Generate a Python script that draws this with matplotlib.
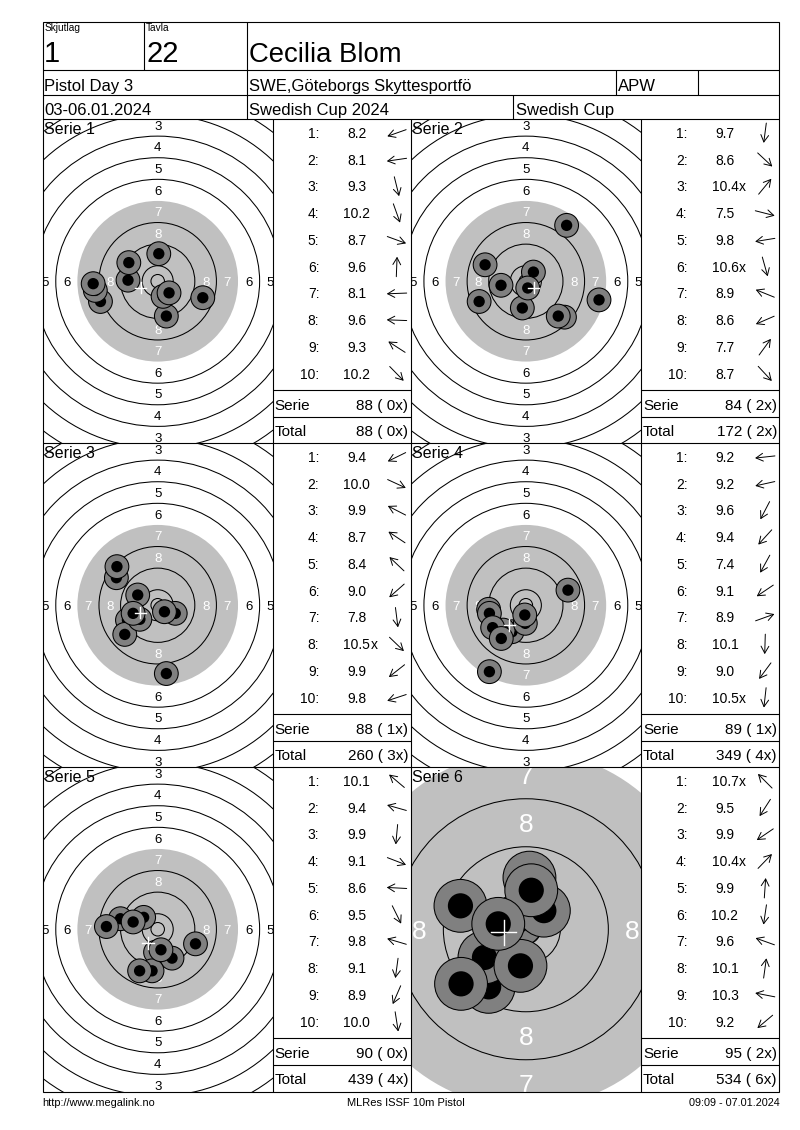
import numpy as np
import matplotlib
matplotlib.use('Agg')
from matplotlib import pyplot as plt
from matplotlib.patches import Circle, Rectangle

plt.rcParams['font.family'] = ['Liberation Sans', 'DejaVu Sans']

# --- header / footer texts ---
skjutlag = '1'
tavla = '22'
namn = 'Cecilia Blom'
tavling = 'Pistol Day 3'
klubb = 'SWE,Göteborgs Skyttesportfö'
klass = 'APW'
datum = '03-06.01.2024'
cup = 'Swedish Cup 2024'
cup_kort = 'Swedish Cup'
footer_vanster = 'http://www.megalink.no'
footer_mitt = 'MLRes ISSF 10m Pistol'
footer_hoger = '09:09 - 07.01.2024'

# --- shots: score and hit position (mm from centre, x right / y up) ---
serie1_poang = ['8.2', '8.1', '9.3', '10.2', '8.7', '9.6', '8.1', '9.6', '9.3', '10.2']
serie1_x = [-21.2, -23.1, 3.2, 2.0, 16.7, 0.4, -23.9, -11.0, -10.7, 4.2]
serie1_y = [-7.5, -3.4, -12.9, -5.6, -6.1, 10.2, -0.9, 0.4, 6.9, -4.3]

serie2_poang = ['9.7', '8.6', '10.4x', '7.5', '9.8', '10.6x', '8.9', '8.6', '7.7', '8.7']
serie2_x = [-1.3, 14.3, 2.8, 27.1, -9.2, 0.7, -15.1, -17.3, 15.1, 12.0]
serie2_y = [-9.9, -13.3, 3.4, -6.9, -1.5, -2.5, 6.1, -7.5, 20.7, -12.9]

serie3_poang = ['9.4', '10.0', '9.9', '8.7', '8.4', '9.0', '7.8', '10.5x', '9.9', '9.8']
serie3_x = [-11.2, 6.5, -7.4, -15.3, -15.1, -12.2, 3.2, 2.5, -6.6, -9.1]
serie3_y = [-5.5, -3.0, 3.8, 10.2, 14.3, -10.8, -25.3, -2.4, -5.2, -3.0]

serie4_poang = ['9.2', '9.2', '9.6', '9.4', '7.4', '9.1', '8.9', '10.1', '9.0', '10.5x']
serie4_x = [-13.8, -13.5, -5.1, -8.4, -13.5, -12.3, 15.6, -0.2, -9.1, -0.4]
serie4_y = [-1.5, -3.0, -9.8, -9.2, -24.6, -8.3, 5.6, -6.7, -12.3, -3.6]

serie5_poang = ['10.1', '9.4', '9.9', '9.1', '8.6', '9.5', '9.8', '9.1', '8.9', '10.0']
serie5_x = [-5.2, -13.8, -0.8, 14.0, -19.0, 5.3, -9.1, -2.1, -6.7, 1.2]
serie5_y = [4.4, 3.9, -8.5, -5.4, 1.0, -10.7, 2.7, -15.4, -15.4, -7.6]

serie6_poang = ['10.7x', '9.5', '9.9', '10.4x', '9.9', '10.2', '9.6', '10.1', '10.3', '9.2']
serie6_x = [-1.4, -6.2, -6.9, 3.0, 0.6, -0.9, -10.9, 0.9, -4.6, -10.8]
serie6_y = [1.4, -9.6, -4.7, 3.1, 8.6, -6.1, 3.9, 6.5, 0.9, -9.1]

serier = [(serie1_poang, serie1_x, serie1_y),
          (serie2_poang, serie2_x, serie2_y),
          (serie3_poang, serie3_x, serie3_y),
          (serie4_poang, serie4_x, serie4_y),
          (serie5_poang, serie5_x, serie5_y),
          (serie6_poang, serie6_x, serie6_y)]
zoomad = [False, False, False, False, False, True]

# --- layout in pixels ---
W, H = 800, 1130
L, R, TOP = 42.7, 779.3, 21.7
kol = [42.7, 272.7, 410.7, 641.0, 779.3]
rad_topp = [119.0, 443.0, 767.0]
RAD_H = 324.5
BOTTEN = rad_topp[-1] + RAD_H

GRA = '#c0c0c0'
SKOTT_GRA = '#808080'


def ring_radie(n):
    # ISSF 10m luftpistol: tian 11.5 mm, 8 mm per ring
    return 5.75 + (10 - n) * 8.0


fig = plt.figure(figsize=(8, 11.3), dpi=100, facecolor='white')
bg = fig.add_axes([0, 0, 1, 1], zorder=3)
bg.set_xlim(0, W)
bg.set_ylim(H, 0)
bg.axis('off')
bg.patch.set_alpha(0)


def hlinje(y, x0, x1):
    bg.plot([x0, x1], [y, y], color='black', lw=0.8, solid_capstyle='butt')


def vlinje(x, y0, y1):
    bg.plot([x, x], [y0, y1], color='black', lw=0.8, solid_capstyle='butt')


def rita_tavla(ax, s, xs, ys, fs, bredd, hojd):
    hw, hh = bredd / 2 / s, hojd / 2 / s
    ax.set_xlim(-hw, hw)
    ax.set_ylim(-hh, hh)
    ax.axis('off')
    ax.add_patch(Circle((0, 0), ring_radie(7), fc=GRA, ec='none', zorder=1))
    for n in range(1, 11):
        if n == 7:
            continue
        ax.add_patch(Circle((0, 0), ring_radie(n), fc='none', ec='black', lw=0.75, zorder=2))
    ax.add_patch(Circle((0, 0), 2.5, fc='none', ec='black', lw=0.75, zorder=2))
    marg = 3.0 / s
    for n in range(1, 9):
        rr = ring_radie(n) - 4.0
        farg = 'white' if n >= 7 else 'black'
        for dx, dy in [(0, 1), (0, -1), (1, 0), (-1, 0)]:
            if (dx and rr > hw + marg) or (dy and rr > hh + marg):
                continue
            ax.text(dx * rr, dy * rr, str(n), color=farg, fontsize=fs,
                    ha='center', va='center_baseline', zorder=3, clip_on=True)
    for x, y in zip(xs, ys):
        ax.add_patch(Circle((x, y), 4.4, fc=SKOTT_GRA, ec='black', lw=0.75, zorder=4))
        ax.add_patch(Circle((x, y), 2.1, fc='black', ec='none', zorder=4))
    # medelträffpunkt
    mx, my = np.mean(xs), np.mean(ys)
    ax.plot([mx - 2.1, mx + 2.1], [my, my], color='white', lw=1, zorder=5)
    ax.plot([mx, mx], [my - 2.1, my + 2.1], color='white', lw=1, zorder=5)


# --- header ---
bg.add_patch(Rectangle((L, TOP), R - L, BOTTEN - TOP, fc='none', ec='black', lw=0.8))
hlinje(70, L, R)
hlinje(95, L, R)
hlinje(119, L, R)
vlinje(144, TOP, 70)
vlinje(246.7, TOP, 119)
vlinje(616, 70, 95)
vlinje(697.7, 70, 95)
vlinje(513.3, 95, 119)

bg.text(44.5, 23, 'Skjutlag', fontsize=7.3, va='top')
bg.text(146, 23, 'Tavla', fontsize=7.3, va='top')
bg.text(44, 62, skjutlag, fontsize=21, va='baseline')
bg.text(146, 62, tavla, fontsize=21, va='baseline')
bg.text(249, 61.7, namn, fontsize=19.8, va='baseline')
bg.text(44.5, 91, tavling, fontsize=12, va='baseline')
bg.text(249, 91, klubb, fontsize=12, va='baseline')
bg.text(618, 91, klass, fontsize=12, va='baseline')
bg.text(44.5, 115, datum, fontsize=12, va='baseline')
bg.text(249, 115, cup, fontsize=12, va='baseline')
bg.text(515.5, 115, cup_kort, fontsize=12, va='baseline')

# --- panels ---
for y0 in rad_topp[1:]:
    hlinje(y0, L, R)
for x in kol[1:4]:
    vlinje(x, rad_topp[0], BOTTEN)

total = 0
total_x = 0
for i, (poang, xs, ys) in enumerate(serier):
    r, c = divmod(i, 2)
    y0 = rad_topp[r]
    y1 = y0 + RAD_H
    px0, px1 = kol[2 * c], kol[2 * c + 1]
    tx0, tx1 = kol[2 * c + 1], kol[2 * c + 2]

    s = 6.0 if zoomad[i] else 2.7
    fs = 19 if zoomad[i] else 9.5
    ax = fig.add_axes([px0 / W, 1 - y1 / H, (px1 - px0) / W, RAD_H / H], zorder=1)
    rita_tavla(ax, s, xs, ys, fs, px1 - px0, RAD_H)
    bg.text(px0 + 1.0, y0 + 15, f'Serie {i + 1}', fontsize=11.5, va='baseline')

    # resultattabell
    hlinje(y0 + 270.7, tx0, tx1)
    hlinje(y0 + 298.3, tx0, tx1)
    for k, p in enumerate(poang):
        yb = y0 + 19 + k * 26.74
        bg.text(tx0 + 46.6, yb, f'{k + 1}:', fontsize=10, ha='right', va='baseline')
        siffra = p.rstrip('x')
        bg.text(tx0 + 84, yb, siffra, fontsize=10, ha='center', va='baseline')
        if p.endswith('x'):
            bg.text(tx0 + 84 + 13.8, yb, 'x', fontsize=10, ha='left', va='baseline')
        vinkel = np.arctan2(ys[k], xs[k])
        cx, cy = tx0 + 124, yb - 5
        dx, dy = 10 * np.cos(vinkel), -10 * np.sin(vinkel)
        bg.annotate('', xy=(cx + dx, cy + dy), xytext=(cx - dx, cy - dy),
                    arrowprops=dict(arrowstyle='->,head_length=0.5,head_width=0.28',
                                    lw=0.7, color='black', shrinkA=0, shrinkB=0,
                                    mutation_scale=10))
    serie = sum(int(float(p.rstrip('x'))) for p in poang)
    nx = sum(p.endswith('x') for p in poang)
    total += serie
    total_x += nx
    bg.text(tx0 + 2, y0 + 291, 'Serie', fontsize=11, va='baseline')
    bg.text(tx1 - 2.4, y0 + 291, f'{serie} ({nx:>2}x)', fontsize=11, ha='right', va='baseline')
    bg.text(tx0 + 2, y0 + 316.7, 'Total', fontsize=11, va='baseline')
    bg.text(tx1 - 2.4, y0 + 316.7, f'{total} ({total_x:>2}x)', fontsize=11, ha='right', va='baseline')

# --- footer ---
bg.text(42, 1106, footer_vanster, fontsize=7.8, va='baseline')
bg.text(406, 1106, footer_mitt, fontsize=8, ha='center', va='baseline')
bg.text(779.3, 1106, footer_hoger, fontsize=7.8, ha='right', va='baseline')

plt.savefig('out.png', dpi=100)
plt.close()
